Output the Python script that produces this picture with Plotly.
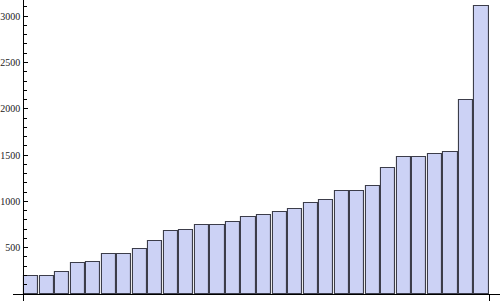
import plotly.graph_objects as go

categories = list(range(1, 31))
values = [194, 194, 238, 335, 346, 429, 429, 486, 572, 680,
          691, 745, 745, 777, 831, 853, 885, 918, 982, 1015,
          1112, 1112, 1166, 1361, 1479, 1479, 1512, 1533, 2095, 3110]
y_ticks = [500, 1000, 1500, 2000, 2500, 3000]

fig = go.Figure()
fig.add_trace(go.Bar(
    x=categories, y=values, width=0.91,
    marker=dict(color="#CCD2F5", line=dict(color="#3C3D4A", width=1.1)),
    hoverinfo="skip",
))

W, H = 500, 301
ml, mb = 13, 7
plot_w = W - ml
x0_px = 23.3
x_lo = 0.5 - (x0_px - ml) / 15.53
x_hi = 30.5 + (W - 489.3) / 15.53

fig.update_layout(
    width=W, height=H,
    margin=dict(l=ml, r=0, t=0, b=mb),
    plot_bgcolor="white", paper_bgcolor="white",
    showlegend=False,
    font=dict(family="Liberation Serif", size=10, color="#222222"),
    bargap=0,
)
fig.update_xaxes(
    range=[x_lo, x_hi], showgrid=False, zeroline=False,
    showline=True, linecolor="black", linewidth=1,
    tickmode="array", tickvals=[0.5, 30.5], ticktext=["", ""],
    ticks="outside", ticklen=6, tickcolor="black", tickwidth=1,
    showticklabels=False,
)
fig.update_yaxes(
    range=[0, 3175], showgrid=False, zeroline=False,
    anchor="free", position=(x0_px - ml) / plot_w,
    showline=True, linecolor="black", linewidth=1,
    tickmode="array", tickvals=y_ticks,
    ticks="inside", ticklen=4, tickcolor="black", tickwidth=1,
    minor=dict(dtick=100, tick0=0, ticks="inside", ticklen=2.5, tickcolor="black", tickwidth=1),
    ticklabelstandoff=1,
)

fig.write_html("out.html")
